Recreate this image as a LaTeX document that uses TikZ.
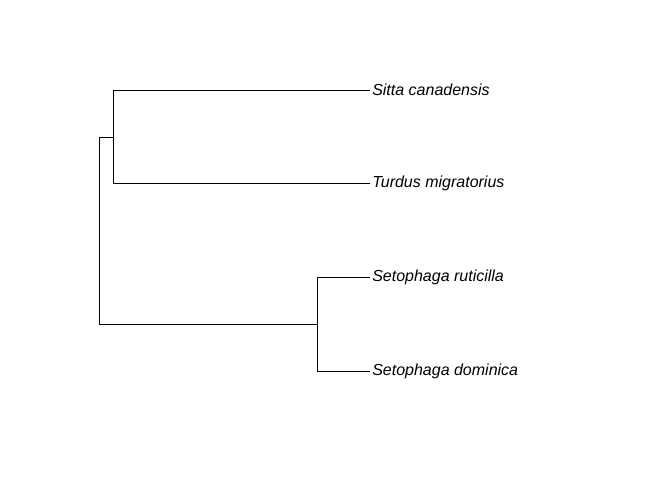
\documentclass[tikz,border=0pt]{standalone}
\usepackage{fontspec}
\setmainfont{Liberation Sans}
\begin{document}
\begin{tikzpicture}[x=0.75pt,y=-0.75pt,
  branch/.style={line width=0.75pt,black},
  taxon/.style={anchor=west,inner sep=0pt,xshift=1.5pt,font=\fontsize{12pt}{14pt}\selectfont\itshape}]
\useasboundingbox (0,0) rectangle (672,480);
\coordinate (root) at (99,324);
\coordinate (rtop) at (99,137);
\coordinate (n1) at (113,137);
\coordinate (n1t) at (113,90);
\coordinate (n1b) at (113,183);
\coordinate (n2) at (317,324);
\coordinate (n2t) at (317,277);
\coordinate (n2b) at (317,371);
\coordinate (t1) at (370,90);
\coordinate (t2) at (370,183);
\coordinate (t3) at (370,277);
\coordinate (t4) at (370,371);
\draw[branch] (n1) -- (rtop) -- (root) -- (n2);
\draw[branch] (t1) -- (n1t) -- (n1b) -- (t2);
\draw[branch] (t3) -- (n2t) -- (n2b) -- (t4);
\node[taxon] (s1) at (t1) {Sitta canadensis};
\node[taxon] (s2) at (t2) {Turdus migratorius};
\node[taxon] (s3) at (t3) {Setophaga ruticilla};
\node[taxon] (s4) at (t4) {Setophaga dominica};
\end{tikzpicture}
\end{document}
